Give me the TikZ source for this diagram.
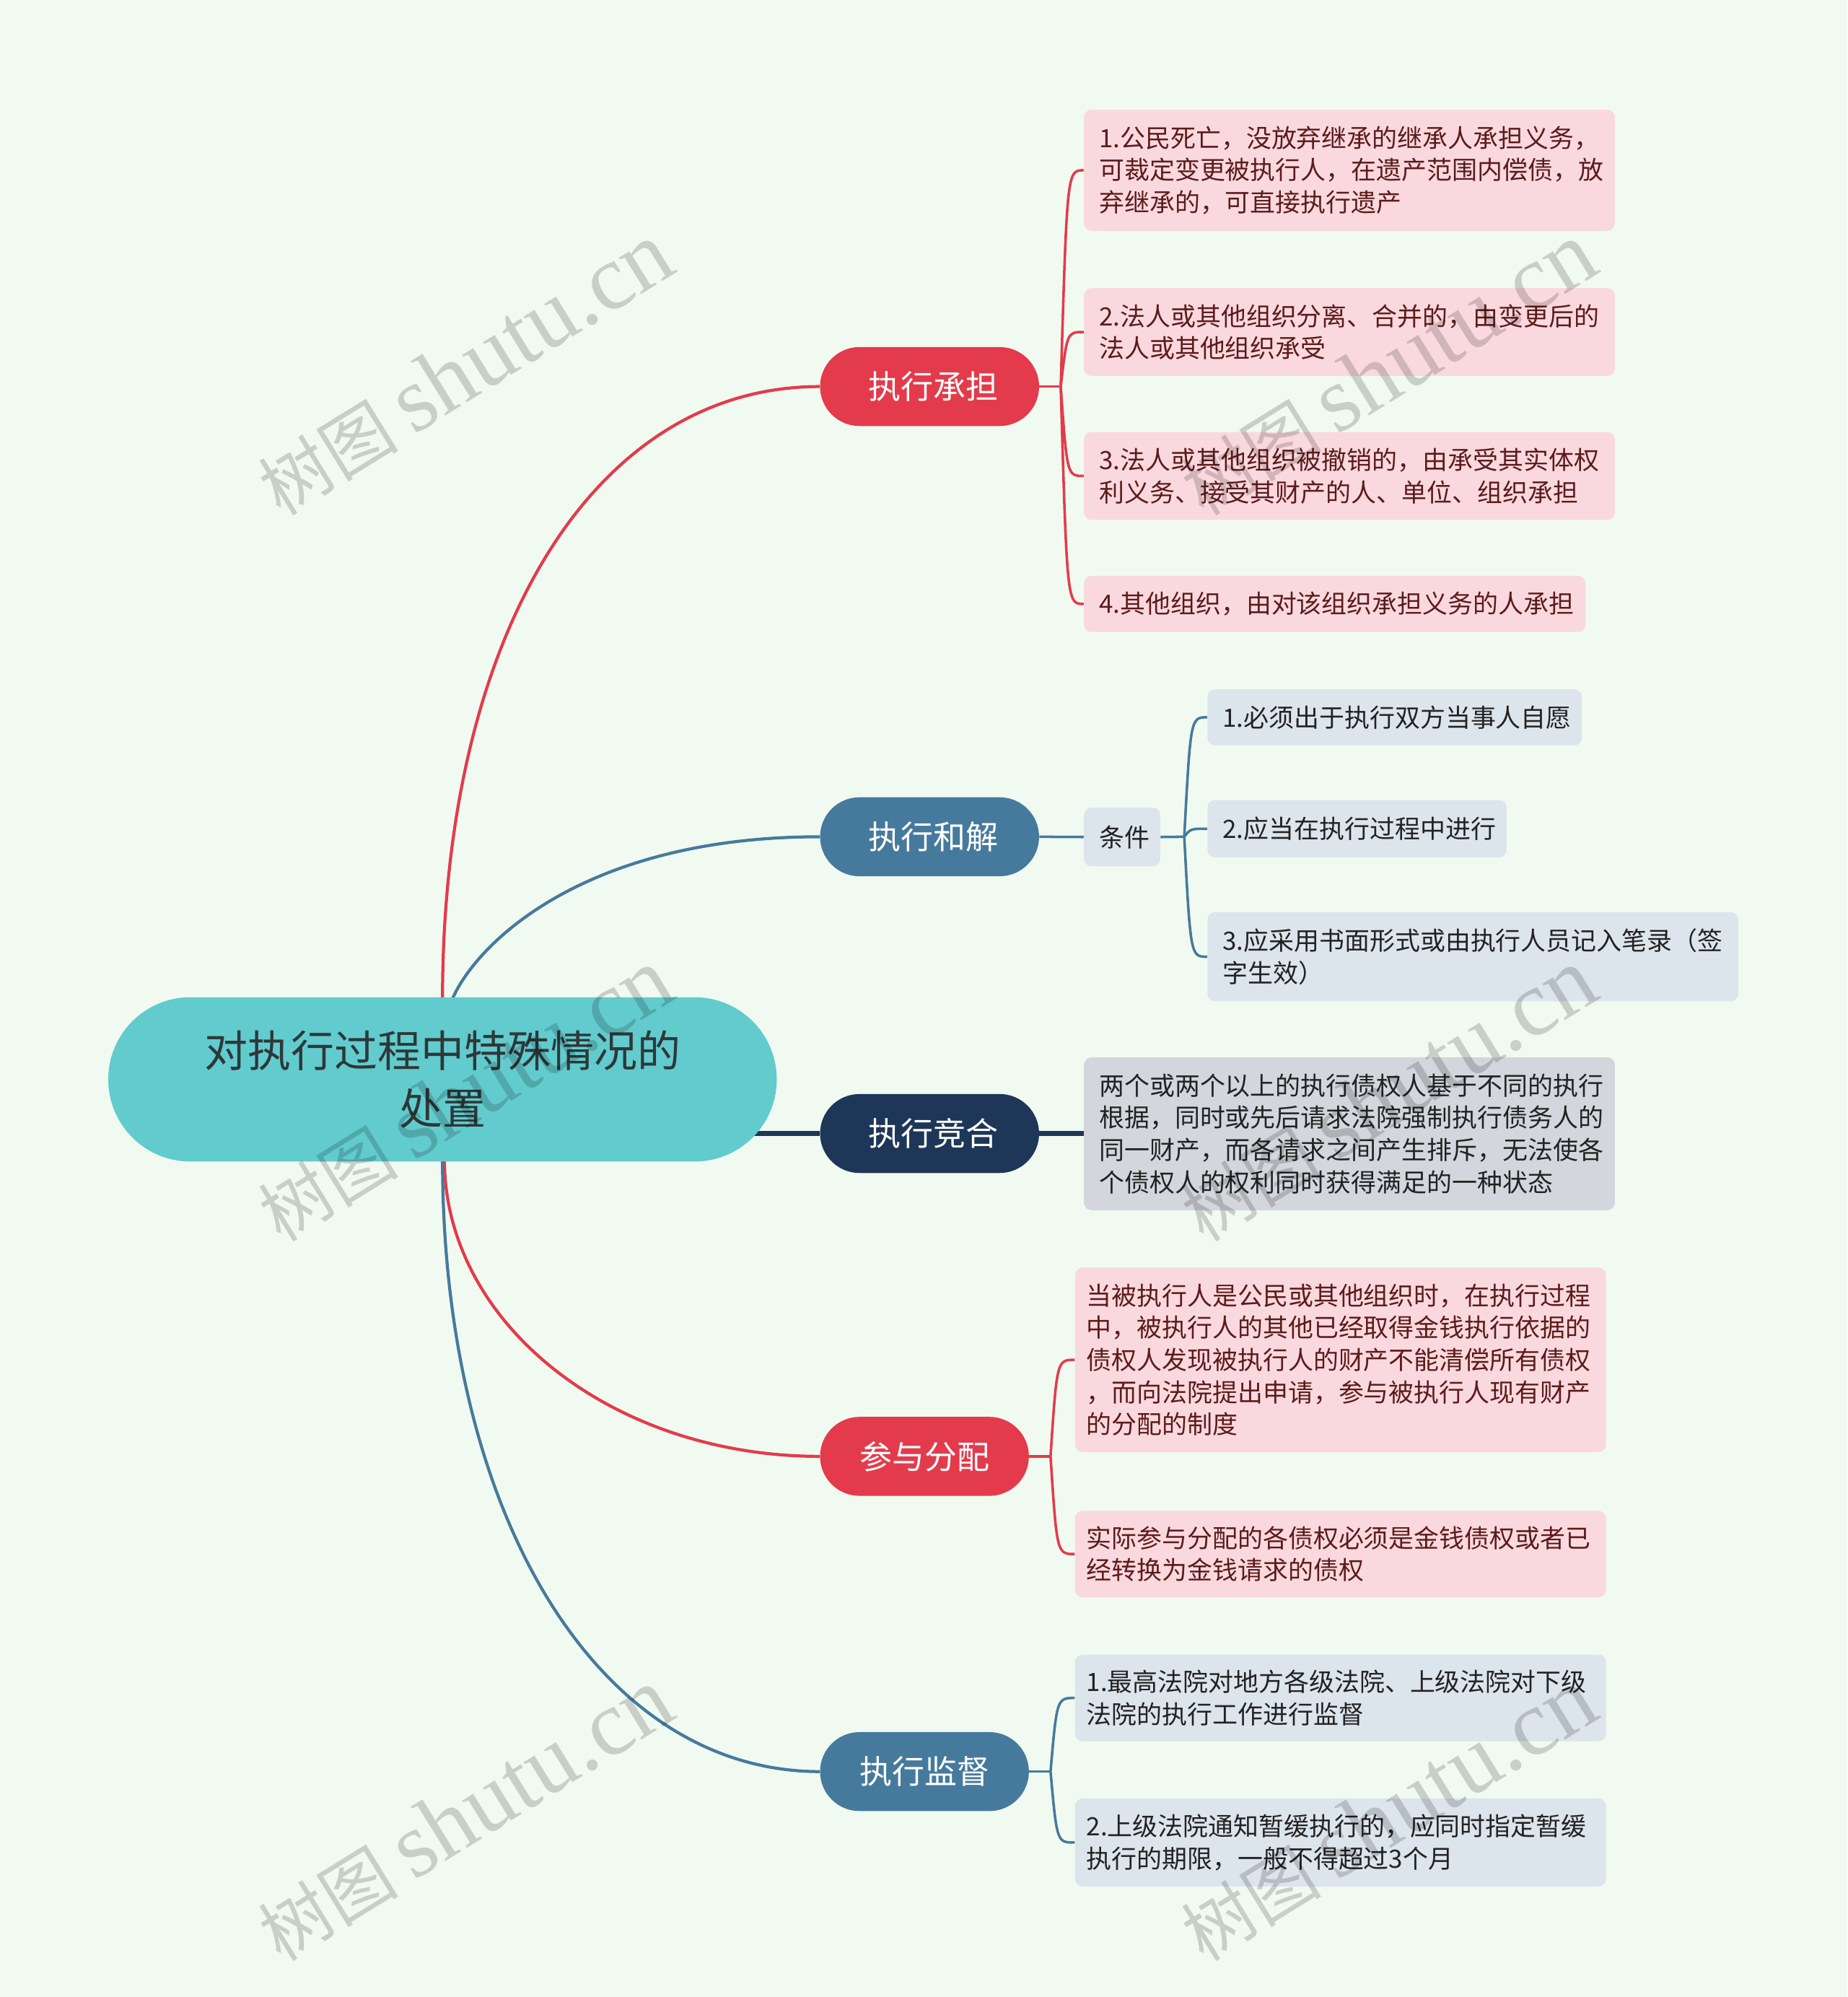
\documentclass[tikz,border=0pt]{standalone}
\usepackage{fontspec}
\setmainfont{Noto Sans CJK SC}
\newfontfamily\wmlatin{Liberation Serif}
\usetikzlibrary{shapes.misc,calc,backgrounds}
\definecolor{cBg}{HTML}{F1FAF0}
\definecolor{cRoot}{HTML}{62CBCE}
\definecolor{cRootTxt}{HTML}{2E3838}
\definecolor{cRed}{HTML}{E33B4B}
\definecolor{cBlue}{HTML}{467A9D}
\definecolor{cNavy}{HTML}{1E3657}
\definecolor{cPink}{HTML}{FAD9DE}
\definecolor{cPinkTxt}{HTML}{5C1B1B}
\definecolor{cPale}{HTML}{DCE4EC}
\definecolor{cGray}{HTML}{D3D6DC}
\definecolor{cDark}{HTML}{222222}
\newcommand\brconn[3]{\draw[brk,#1] (#2) .. controls ($(#2 |- #3.west)+(5,0)$) and ($(#2 |- #3.west)+(5,0)$) .. (#3.west);}
\tikzset{
 rootnode/.style={rounded rectangle, fill=cRoot, text=cRootTxt, minimum width=525pt, minimum height=129pt, inner sep=0pt, align=center, font=\fontsize{34}{45}\selectfont},
 branch/.style={rounded rectangle, text=white, minimum height=62pt, inner sep=0pt, font=\fontsize{25.5}{30}\selectfont},
 leaf/.style={rectangle, rounded corners=6pt, anchor=north west, inner xsep=12pt, inner ysep=0pt, align=left, font=\fontsize{19.8}{25.3}\selectfont},
 leafnarrow/.style={inner xsep=9pt},
 pinkleaf/.style={leaf, fill=cPink, text=cPinkTxt},
 paleleaf/.style={leaf, fill=cPale, text=cDark},
 grayleaf/.style={leaf, fill=cGray, text=cDark},
 link/.style={line width=2.4pt},
 brk/.style={line width=2pt},
 wm/.style={text=black, opacity=0.17, font=\fontsize{55}{60}\selectfont, rotate=31.7},
}
\newcommand\wmtext{树图 {\wmlatin\fontsize{73}{75}\selectfont shutu.cn}}
\begin{document}
\begin{tikzpicture}[x=1pt,y=-1pt]
\useasboundingbox (0,0) rectangle (1450.7,1568);
% root
\node[rootnode] (root) at (347.5,847.5) {对执行过程中特殊情况的\\处置};
% branches
\node[branch, fill=cRed, minimum width=172pt] (b1) at (730,303.5) {\hspace*{6pt}执行承担};
\node[branch, fill=cBlue, minimum width=172pt] (b2) at (730,657) {\hspace*{6pt}执行和解};
\node[branch, fill=cNavy, minimum width=172pt] (b3) at (730,890) {\hspace*{6pt}执行竞合};
\node[branch, fill=cRed, minimum width=164pt] (b4) at (726,1143.5) {参与分配};
\node[branch, fill=cBlue, minimum width=164pt] (b5) at (726,1391) {执行监督};
% leaves of b1
\node[pinkleaf, text width=393pt, minimum height=95pt] (c11) at (851,86) {1.公民死亡，没放弃继承的继承人承担义务，\\可裁定变更被执行人，在遗产范围内偿债，放\\弃继承的，可直接执行遗产};
\node[pinkleaf, text width=393pt, minimum height=69pt] (c12) at (851,226) {2.法人或其他组织分离、合并的，由变更后的\\法人或其他组织承受};
\node[pinkleaf, text width=393pt, minimum height=69pt] (c13) at (851,339) {3.法人或其他组织被撤销的，由承受其实体权\\利义务、接受其财产的人、单位、组织承担};
\node[pinkleaf, text width=370pt, minimum height=44pt] (c14) at (851,452) {4.其他组织，由对该组织承担义务的人承担};
% b2
\node[paleleaf, text width=36pt, minimum height=46pt] (cond) at (851,634) {条件};
\node[paleleaf, text width=270pt, minimum height=44pt] (c21) at (948,541) {1.必须出于执行双方当事人自愿};
\node[paleleaf, text width=211pt, minimum height=45pt] (c22) at (948,628) {2.应当在执行过程中进行};
\node[paleleaf, text width=393pt, minimum height=70pt] (c23) at (948,716) {3.应采用书面形式或由执行人员记入笔录（签\\字生效）};
% b3
\node[grayleaf, text width=393pt, minimum height=120pt] (c31) at (851,830) {两个或两个以上的执行债权人基于不同的执行\\根据，同时或先后请求法院强制执行债务人的\\同一财产，而各请求之间产生排斥，无法使各\\个债权人的权利同时获得满足的一种状态};
% b4
\node[pinkleaf, leafnarrow, text width=399pt, minimum height=145pt] (c41) at (844,995) {当被执行人是公民或其他组织时，在执行过程\\中，被执行人的其他已经取得金钱执行依据的\\债权人发现被执行人的财产不能清偿所有债权\\，而向法院提出申请，参与被执行人现有财产\\的分配的制度};
\node[pinkleaf, leafnarrow, text width=399pt, minimum height=68pt] (c42) at (844,1186) {实际参与分配的各债权必须是金钱债权或者已\\经转换为金钱请求的债权};
% b5
\node[paleleaf, leafnarrow, text width=399pt, minimum height=68pt] (c51) at (844,1299) {1.最高法院对地方各级法院、上级法院对下级\\法院的执行工作进行监督};
\node[paleleaf, leafnarrow, text width=399pt, minimum height=69pt] (c52) at (844,1412) {2.上级法院通知暂缓执行的，应同时指定暂缓\\执行的期限，一般不得超过3个月};
% stub points
\coordinate (s1) at (833,303.5);
\coordinate (s2) at (930,657);
\coordinate (s4) at (825,1143.5);
\coordinate (s5) at (825,1391);
\begin{pgfonlayer}{background}
\fill[cBg] (0,0) rectangle (1450.7,1568);
% root links
\draw[link,cRed] ($(root.north)+(0,2)$) .. controls ($(root.north)+(0,-283)$) and ($(b1.west)+(-179,0)$) .. (b1.west);
\draw[link,cBlue] ($(root.north)+(8,1)$) .. controls ($(root.north)+(27.5,-43)$) and ($(b2.west)+(-184,0)$) .. (b2.west);
\draw[line width=3.5pt,cNavy] (root.center |- b3.west) -- (b3.west);
\draw[link,cRed] ($(root.south)+(1.5,-2)$) .. controls ($(root.south)+(1.5,127)$) and ($(b4.west)+(-163,0)$) .. (b4.west);
\draw[link,cBlue] ($(root.south)+(0,-2)$) .. controls ($(root.south)+(0,278)$) and ($(b5.west)+(-174,0)$) .. (b5.west);
% b1 bracket
\draw[brk,cRed] (b1.east) -- (s1);
\brconn{cRed}{s1}{c11}
\brconn{cRed}{s1}{c12}
\brconn{cRed}{s1}{c13}
\brconn{cRed}{s1}{c14}
% b2
\draw[brk,cBlue] (b2.east) -- (cond.west);
\draw[brk,cBlue] (cond.east) -- (s2);
\brconn{cBlue}{s2}{c21}
\brconn{cBlue}{s2}{c22}
\brconn{cBlue}{s2}{c23}
% b3
\draw[line width=3.5pt,cNavy] (b3.east) -- (c31.west |- b3.east);
% b4
\draw[brk,cRed] (b4.east) -- (s4);
\brconn{cRed}{s4}{c41}
\brconn{cRed}{s4}{c42}
% b5
\draw[brk,cBlue] (b5.east) -- (s5);
\brconn{cBlue}{s5}{c51}
\brconn{cBlue}{s5}{c52}
\end{pgfonlayer}
% watermarks
\node[wm] (w1) at (365,290) {\wmtext};
\node[wm] (w2) at (1090,290) {\wmtext};
\node[wm] (w3) at (365,860) {\wmtext};
\node[wm] (w4) at (1090,860) {\wmtext};
\node[wm] (w5) at (365,1425) {\wmtext};
\node[wm] (w6) at (1090,1425) {\wmtext};
\end{tikzpicture}
\end{document}
